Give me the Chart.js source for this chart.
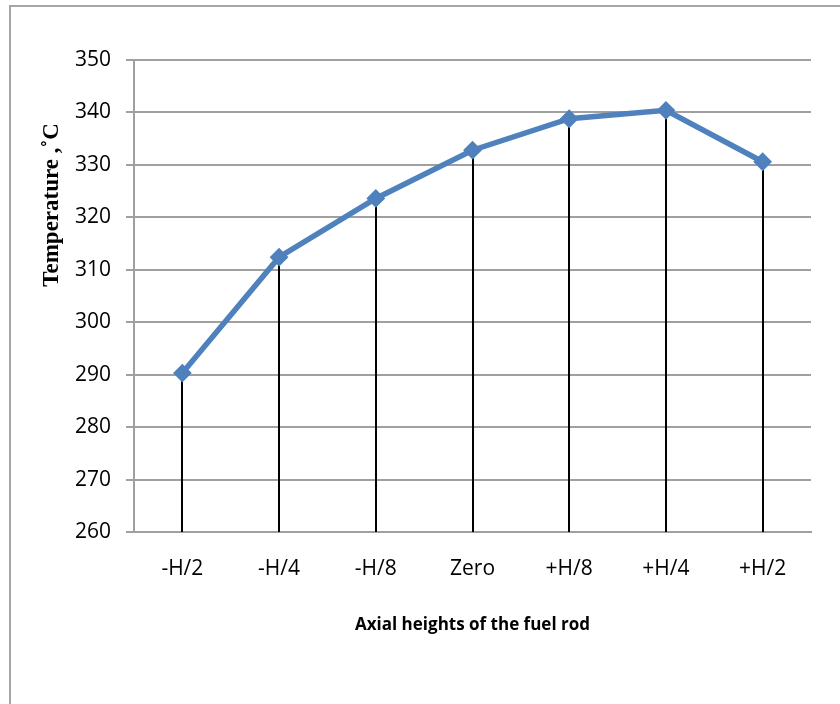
<!DOCTYPE html>
<html>
<head>
<meta charset="utf-8">
<script src="https://cdn.jsdelivr.net/npm/chart.js@4"></script>
<style>
  html, body { margin: 0; padding: 0; background: #fff; overflow: hidden; }
  #wrap { position: relative; width: 840px; height: 704px; }
  #frame { position: absolute; left: 9px; top: 5px; width: 900px; height: 800px;
           border: 2px solid #a6a6a6; box-sizing: border-box; }
  #myChart { position: absolute; left: 0; top: 0; }
</style>
</head>
<body>
<div id="wrap">
  <div id="frame"></div>
  <canvas id="myChart" width="840" height="704"></canvas>
</div>
<script>
// ── data ──
const categories   = ['-H/2', '-H/4', '-H/8', 'Zero', '+H/8', '+H/4', '+H/2'];
const temperatures = [290.3, 312.4, 323.6, 332.8, 338.8, 340.4, 330.6];
const yMin  = 260;
const yMax  = 350;
const yStep = 10;

const xTitle = 'Axial heights of the fuel rod';
const yTitle = 'Temperature ,˚C';

const BLUE = '#4f81bd';
const GRID = '#a0a0a0';

// vertical black drop lines from each point down to the x axis
const dropLines = {
  id: 'dropLines',
  beforeDatasetsDraw(chart) {
    const meta = chart.getDatasetMeta(0);
    const bottom = chart.scales.y.getPixelForValue(yMin);
    const ctx = chart.ctx;
    ctx.save();
    ctx.strokeStyle = '#000';
    ctx.lineWidth = 2;
    meta.data.forEach(p => {
      ctx.beginPath();
      ctx.moveTo(Math.round(p.x), p.y);
      ctx.lineTo(Math.round(p.x), bottom);
      ctx.stroke();
    });
    ctx.restore();
  }
};

// y title sits above the middle of the axis in the original, draw it by hand
const yTitlePlugin = {
  id: 'yTitle',
  afterDraw(chart) {
    const ctx = chart.ctx;
    ctx.save();
    ctx.translate(52, 205);
    ctx.rotate(-Math.PI / 2);
    ctx.font = 'bold 23px "Liberation Serif", "Times New Roman", serif';
    ctx.fillStyle = '#000';
    ctx.textAlign = 'center';
    ctx.textBaseline = 'middle';
    ctx.fillText(yTitle, 0, 0);
    ctx.restore();
  }
};

new Chart(document.getElementById('myChart'), {
  type: 'line',
  data: {
    labels: categories,
    datasets: [{
      data: temperatures,
      borderColor: BLUE,
      backgroundColor: BLUE,
      borderWidth: 5.5,
      pointStyle: 'rectRot',
      pointRadius: 8,
      pointBorderWidth: 2,
      pointBorderColor: BLUE,
      pointBackgroundColor: BLUE,
      tension: 0,
      fill: false
    }]
  },
  plugins: [dropLines, yTitlePlugin],
  options: {
    responsive: false,
    animation: false,
    layout: { padding: { top: 60, right: 29, bottom: 69, left: 0 } },
    plugins: {
      legend: { display: false },
      tooltip: { enabled: false }
    },
    scales: {
      x: {
        offset: true,
        grid: { display: false, drawTicks: false, offset: true },
        border: { display: true, color: GRID, width: 2 },
        ticks: {
          color: '#000',
          padding: 24,
          maxRotation: 0,
          font: { family: '"Open Sans", "Noto Sans", sans-serif', size: 21 }
        },
        title: {
          display: true,
          text: xTitle,
          color: '#000',
          padding: { top: 0, bottom: 0 },
          font: { family: '"Open Sans", "Noto Sans", sans-serif', size: 17, weight: 'bold' }
        },
        afterFit(scale) { scale.height = 103; }
      },
      y: {
        min: yMin,
        max: yMax,
        grid: { color: GRID, lineWidth: 2, tickLength: 8, drawTicks: true },
        border: { display: true, color: GRID, width: 2 },
        ticks: {
          stepSize: yStep,
          color: '#000',
          padding: 15,
          font: { family: '"Open Sans", "Noto Sans", sans-serif', size: 21 }
        },
        afterFit(scale) { scale.width = 134; }
      }
    }
  }
});
</script>
</body>
</html>
